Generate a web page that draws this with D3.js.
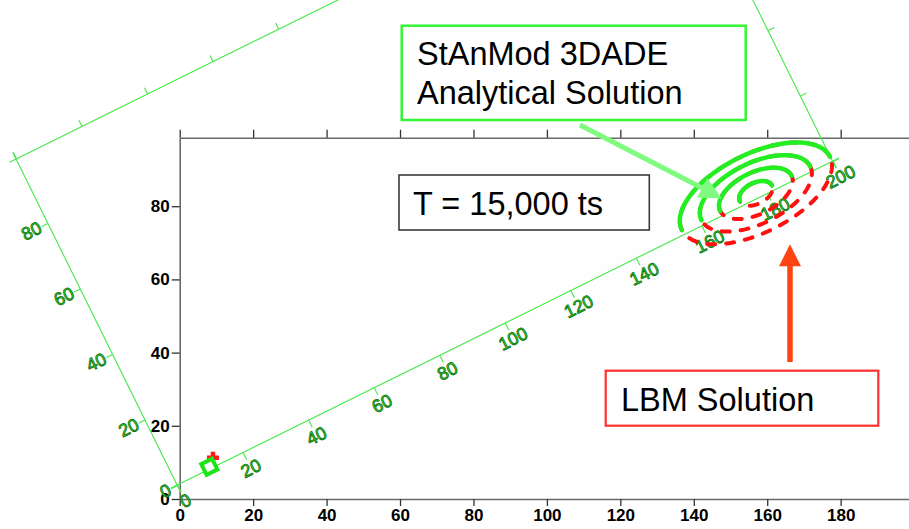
<!DOCTYPE html>
<html>
<head>
<meta charset="utf-8">
<script src="https://cdn.jsdelivr.net/npm/d3@7/dist/d3.min.js"></script>
<style>
  html, body { margin: 0; padding: 0; background: #fff; }
  svg { display: block; font-family: "Liberation Sans", Arial, sans-serif; }
</style>
</head>
<body>
<svg id="chart" width="909" height="529"></svg>
<script>
// ---- plot axes (grid units) ----
const xTicks = [0, 20, 40, 60, 80, 100, 120, 140, 160, 180];
const yTicks = [0, 20, 40, 60, 80];
const xMax = 199;
const yMax = 98.7;

// ---- rotated model domain frame ----
const frameOrigin = [-0.68, 3.8];      // frame origin in plot units
const frameAngle = 26.3;               // degrees, counter-clockwise
const frameLength = 200;
const frameWidth = 99.5;
const frameXTicks = [0, 20, 40, 60, 80, 100, 120, 140, 160, 180, 200];
const frameYTicks = [0, 20, 40, 60, 80];

// ---- concentration contours (frame units) ----
const contourCenter = [177.3, 1.4];
const contourHalfLength = [22.6, 16.6, 10.9, 4.9];
const contourHalfWidth = [10.8, 8.3, 5.7, 2.9];

// ---- source positions (frame units) ----
const sourceAnalytical = [10.1, 0.6];
const sourceLBM = [12.1, 2.4];

// ---- annotation arrows (plot units) ----
const arrowAnalytical = { from: [109.0, 102.2], to: [147.6, 82.2] };
const arrowLBM = { from: [166.2, 37.4], to: [166.2, 69.6] };

const svg = d3.select("#chart");

const x = d3.scaleLinear().domain([0, xMax]).range([179.7, 179.7 + xMax * 3.672]);
const y = d3.scaleLinear().domain([0, yMax]).range([499, 499 - yMax * 3.66]);

// plot background
svg.append("rect")
  .attr("x", x(0)).attr("y", y(yMax))
  .attr("width", x(xMax) - x(0)).attr("height", y(0) - y(yMax))
  .attr("fill", "#fefefe");

function styleMainAxis(g) {
  g.select(".domain").attr("stroke", "#6a6a6a").attr("stroke-width", 1.6);
  g.selectAll(".tick line").attr("stroke", "#333").attr("stroke-width", 1.3);
  g.selectAll(".tick text")
    .attr("fill", "#000")
    .style("font-family", "'Liberation Sans', Arial, sans-serif")
    .style("font-weight", "bold")
    .style("font-size", "17px");
}

svg.append("g").attr("transform", `translate(0,${y(0)})`)
  .call(d3.axisBottom(x).tickValues(xTicks).tickSize(7).tickSizeOuter(0).tickPadding(3))
  .call(styleMainAxis);
svg.append("g").attr("transform", `translate(0,${y(yMax)})`)
  .call(d3.axisTop(x).tickValues(xTicks).tickSize(8).tickSizeOuter(0).tickFormat(""))
  .call(styleMainAxis);
svg.append("g").attr("transform", `translate(${x(0)},0)`)
  .call(d3.axisLeft(y).tickValues(yTicks).tickSize(8).tickSizeOuter(0).tickPadding(2))
  .call(styleMainAxis);
svg.append("g").attr("transform", `translate(${x(xMax)},0)`)
  .call(d3.axisRight(y).tickValues(yTicks).tickSize(8).tickSizeOuter(0).tickFormat(""))
  .call(styleMainAxis);

// ---- rotated frame ----
const frameUnit = 3.655;
const fx = d3.scaleLinear().domain([0, frameLength]).range([0, frameLength * frameUnit]);
const fy = d3.scaleLinear().domain([0, frameWidth]).range([0, -frameWidth * frameUnit]);

const frame = svg.append("g")
  .attr("transform", `translate(${x(frameOrigin[0])},${y(frameOrigin[1])}) rotate(${-frameAngle})`);

const frameGreen = "#45e845";
const ext = 2;
const frameLines = [
  [[-ext, 0], [frameLength + ext, 0]],
  [[-ext, frameWidth], [frameLength + ext, frameWidth]],
  [[0, -ext], [0, frameWidth + ext]],
  [[frameLength, -ext], [frameLength, frameWidth + ext]]
];
frame.selectAll("line.frame").data(frameLines).join("line")
  .attr("class", "frame")
  .attr("x1", d => fx(d[0][0])).attr("y1", d => fy(d[0][1]))
  .attr("x2", d => fx(d[1][0])).attr("y2", d => fy(d[1][1]))
  .attr("stroke", frameGreen).attr("stroke-width", 1.1);

function styleFrameAxis(g) {
  g.select(".domain").remove();
  g.selectAll(".tick line").attr("stroke", frameGreen).attr("stroke-width", 1.1);
  g.selectAll(".tick text")
    .attr("fill", "#33dd33")
    .attr("stroke", "#0b700b")
    .attr("stroke-width", 0.8)
    .style("font-family", "'Liberation Sans', Arial, sans-serif")
    .style("font-size", "18px");
}

frame.append("g")
  .call(d3.axisBottom(fx).tickValues(frameXTicks).tickSize(8).tickPadding(3))
  .call(styleFrameAxis);
frame.append("g").attr("transform", `translate(0,${fy(frameWidth)})`)
  .call(d3.axisTop(fx).tickValues(frameXTicks).tickSize(7).tickFormat(""))
  .call(styleFrameAxis);
frame.append("g")
  .call(d3.axisLeft(fy).tickValues(frameYTicks).tickSize(7).tickPadding(1))
  .call(styleFrameAxis);
frame.append("g").attr("transform", `translate(${fx(frameLength)},0)`)
  .call(d3.axisRight(fy).tickValues(frameYTicks).tickSize(7).tickFormat(""))
  .call(styleFrameAxis);

// ---- contours ----
function ellipsePoints(i, a0, a1) {
  return d3.range(a0, a1 + 0.001, 2).map(t => {
    const r = t * Math.PI / 180;
    return [contourCenter[0] + contourHalfLength[i] * Math.cos(r),
            contourCenter[1] + contourHalfWidth[i] * Math.sin(r)];
  });
}
const contourLine = d3.line().x(d => fx(d[0])).y(d => fy(d[1]));
const rings = d3.range(contourHalfLength.length);

// LBM solution: full dashed ellipses
frame.selectAll("path.lbm").data(rings).join("path")
  .attr("class", "lbm")
  .attr("d", i => contourLine(ellipsePoints(i, 0, 360)))
  .attr("fill", "none")
  .attr("stroke", "#ff1010")
  .attr("stroke-width", 4)
  .attr("stroke-linecap", "round")
  .attr("stroke-dasharray", "8,11");

// analytical solution: upper half-plane contours
frame.selectAll("path.analytical").data(rings).join("path")
  .attr("class", "analytical")
  .attr("d", i => contourLine(ellipsePoints(i, 0, 180)))
  .attr("fill", "none")
  .attr("stroke", "#22ee22")
  .attr("stroke-width", 4.5)
  .attr("stroke-linecap", "round");

// ---- sources ----
const plusArm = 6;
const lbmSrc = frame.append("g")
  .attr("transform", `translate(${fx(sourceLBM[0])},${fy(sourceLBM[1])}) rotate(${frameAngle})`);
lbmSrc.append("path")
  .attr("d", `M${-plusArm},0H${plusArm}M0,${-plusArm}V${plusArm}`)
  .attr("stroke", "#ff1a1a").attr("stroke-width", 4.5);

frame.append("rect")
  .attr("x", fx(sourceAnalytical[0]) - 6).attr("y", fy(sourceAnalytical[1]) - 6)
  .attr("width", 12).attr("height", 12)
  .attr("fill", "#fff").attr("stroke", "#19e619").attr("stroke-width", 4);

// ---- annotation arrows ----
function arrow(spec, color, shaftW, headL, headW) {
  const x0 = x(spec.from[0]), y0 = y(spec.from[1]);
  const x1 = x(spec.to[0]), y1 = y(spec.to[1]);
  const len = Math.hypot(x1 - x0, y1 - y0);
  const ang = Math.atan2(y1 - y0, x1 - x0) * 180 / Math.PI;
  const g = svg.append("g").attr("transform", `translate(${x0},${y0}) rotate(${ang})`);
  g.append("path")
    .attr("d", `M0,${-shaftW / 2}H${len - headL}V${-headW / 2}L${len},0L${len - headL},${headW / 2}V${shaftW / 2}H0Z`)
    .attr("fill", color);
}
arrow(arrowAnalytical, "#80fb80", 5, 22, 22);
arrow(arrowLBM, "#ff4414", 5.5, 22, 22);

// ---- labelled boxes ----
function box(bx, by, bw, bh, stroke, sw, lines, tx, baselines) {
  svg.append("rect").attr("x", bx).attr("y", by).attr("width", bw).attr("height", bh)
    .attr("fill", "#fff").attr("stroke", stroke).attr("stroke-width", sw);
  lines.forEach((t, k) => {
    svg.append("text").attr("x", tx).attr("y", baselines[k])
      .attr("fill", "#000")
      .style("font-size", "32.5px")
      .text(t);
  });
}
box(401.7, 25.7, 344, 94.3, "#33f533", 2.5,
    ["StAnMod 3DADE", "Analytical Solution"], 417, [65, 103.5]);
box(399, 175, 250.3, 55, "#3a3a3a", 1.6, ["T = 15,000 ts"], 413, [215]);
box(605.7, 370.7, 272.6, 55, "#ff3030", 2.2, ["LBM Solution"], 621, [410.7]);
</script>
</body>
</html>
